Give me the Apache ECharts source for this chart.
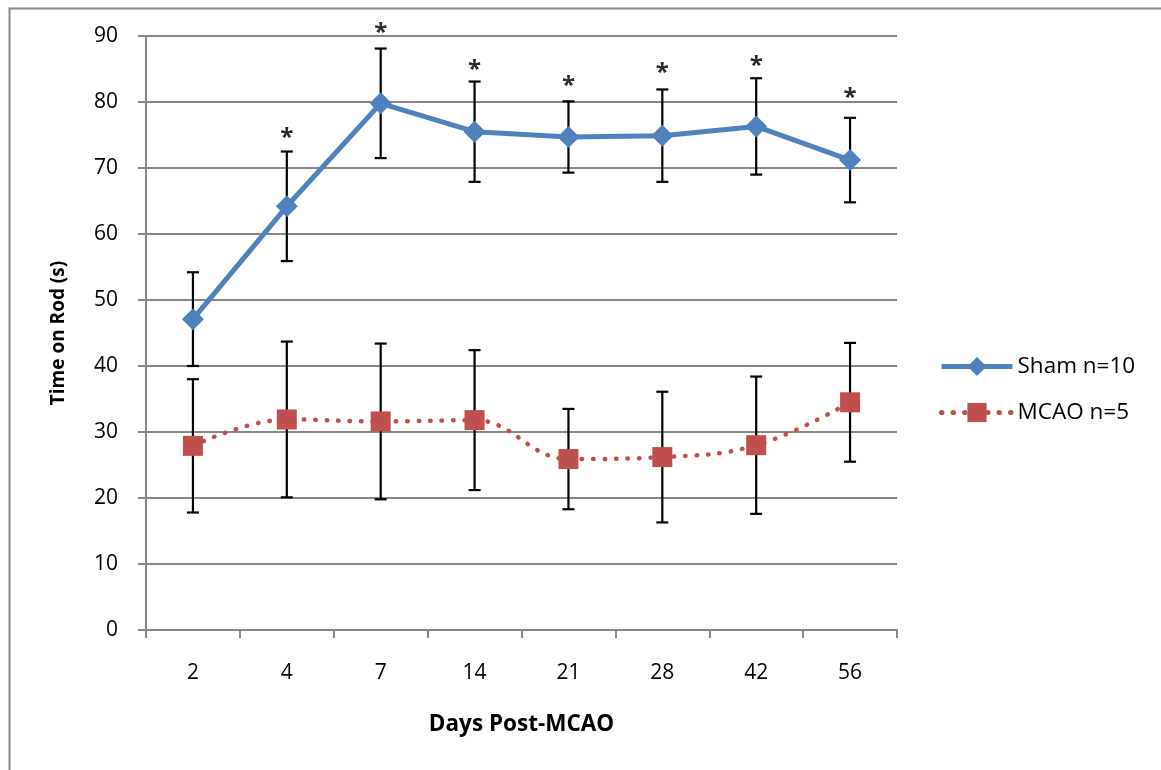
<!DOCTYPE html>
<html><head><meta charset="utf-8">
<script src="https://cdn.jsdelivr.net/npm/echarts@6/dist/echarts.min.js"></script>
<style>html,body{margin:0;padding:0;background:#fff}#c{width:1161px;height:770px}</style>
</head><body><div id="c"></div>
<script>
const days = ['2', '4', '7', '14', '21', '28', '42', '56'];
const shamMean = [47.1, 64.2, 79.8, 75.5, 74.7, 74.9, 76.3, 71.2];
const shamErr  = [7.1, 8.3, 8.3, 7.6, 5.4, 7.0, 7.3, 6.4];
const mcaoMean = [27.9, 31.9, 31.6, 31.8, 25.9, 26.2, 28.0, 34.5];
const mcaoErr  = [10.1, 11.8, 11.8, 10.6, 7.6, 9.9, 10.4, 9.0];
const sigMark  = [null, 75.5, 91.4, 85.8, 83.3, 85.3, 86.4, 81.5];
const seriesNames = ['Sham n=10', 'MCAO n=5'];

const FONT = '"Open Sans", "Liberation Sans", sans-serif';
const blue = '#4F81BD', red = '#C0504D', grid = '#868686';

function errData(means, errs) {
  return means.map((m, i) => [i, +(m - errs[i]).toFixed(2), +(m + errs[i]).toFixed(2)]);
}
function errRender(params, api) {
  const i = api.value(0);
  const lo = api.coord([i, api.value(1)]);
  const hi = api.coord([i, api.value(2)]);
  const w = 6;
  const st = { stroke: '#000', lineWidth: 2.2 };
  return { type: 'group', children: [
    { type: 'line', shape: { x1: hi[0], y1: hi[1], x2: lo[0], y2: lo[1] }, style: st },
    { type: 'line', shape: { x1: hi[0] - w, y1: hi[1], x2: hi[0] + w, y2: hi[1] }, style: st },
    { type: 'line', shape: { x1: lo[0] - w, y1: lo[1], x2: lo[0] + w, y2: lo[1] }, style: st }
  ]};
}
const sigData = [];
sigMark.forEach((v, i) => { if (v != null) sigData.push([i, v]); });

const chart = echarts.init(document.getElementById('c'), null, { renderer: 'canvas' });
chart.setOption({
  animation: false,
  backgroundColor: '#fff',
  graphic: [{
    type: 'rect', left: 7, top: 6, shape: { width: 1200, height: 800 },
    style: { fill: 'none', stroke: '#878787', lineWidth: 2 }, silent: true, z: -1
  }],
  grid: { left: 146, right: 264, top: 36, bottom: 140, outerBoundsMode: 'none' },
  legend: {
    orient: 'vertical', left: 934, top: 350, itemWidth: 71, itemHeight: 24, itemGap: 23,
    data: [
      { name: seriesNames[0], lineStyle: { width: 5 } },
      { name: seriesNames[1], lineStyle: { width: 5 } }
    ],
    textStyle: { fontFamily: FONT, fontSize: 22.5, color: '#000' }
  },
  xAxis: {
    type: 'category', data: days, boundaryGap: true,
    axisLine: { lineStyle: { color: grid, width: 2 } },
    axisTick: { show: true, length: 8, inside: false, lineStyle: { color: grid, width: 2 } },
    axisLabel: { margin: 33, fontFamily: FONT, fontSize: 21, color: '#000' },
    name: 'Days Post-MCAO', nameLocation: 'middle', nameGap: 83,
    nameTextStyle: { fontFamily: FONT, fontSize: 22.5, fontWeight: 'bold', color: '#000' }
  },
  yAxis: {
    type: 'value', min: 0, max: 90, interval: 10,
    axisLine: { show: true, lineStyle: { color: grid, width: 2 } },
    axisTick: { show: true, length: 8, lineStyle: { color: grid, width: 2 } },
    splitLine: { lineStyle: { color: grid, width: 2 } },
    axisLabel: { margin: 28, fontFamily: FONT, fontSize: 21, color: '#000' },
    name: 'Time on Rod (s)', nameLocation: 'middle', nameGap: 78,
    nameTextStyle: { fontFamily: FONT, fontSize: 19, fontWeight: 'bold', color: '#000' }
  },
  series: [
    { type: 'custom', name: 'errSham', renderItem: errRender, data: errData(shamMean, shamErr),
      encode: { x: 0, y: [1, 2] }, z: 1, silent: true },
    { type: 'custom', name: 'errMcao', renderItem: errRender, data: errData(mcaoMean, mcaoErr),
      encode: { x: 0, y: [1, 2] }, z: 1, silent: true },
    { type: 'line', name: seriesNames[0], data: shamMean, z: 3,
      symbol: 'diamond', symbolSize: 22,
      itemStyle: { color: blue },
      lineStyle: { color: blue, width: 5 } },
    { type: 'line', name: seriesNames[1], data: mcaoMean, z: 2,
      symbol: 'rect', symbolSize: 20, smooth: 0.4,
      itemStyle: { color: red },
      lineStyle: { color: red, width: 4.5, type: [0.5, 11], cap: 'round' } },
    { type: 'custom', name: 'sig', data: sigData, encode: { x: 0, y: 1 }, z: 4, silent: true,
      renderItem: function (params, api) {
        const p = api.coord([api.value(0), api.value(1)]);
        return { type: 'text', x: p[0], y: p[1] + 6,
          style: { text: '*', font: 'bold 24px ' + FONT, fill: '#2a2a2a', align: 'center', verticalAlign: 'middle' } };
      } }
  ]
});
</script></body></html>
